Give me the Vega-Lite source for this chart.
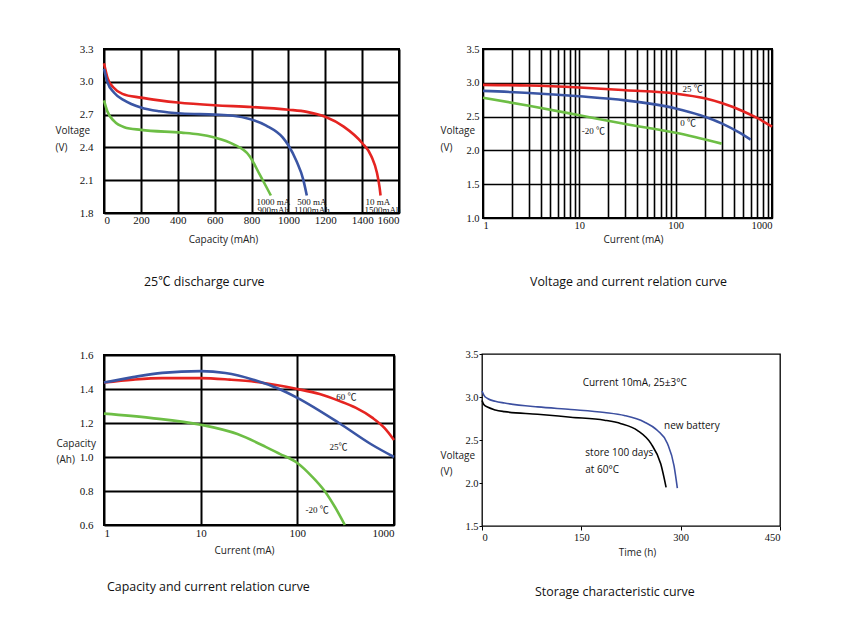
{
  "$schema": "https://vega.github.io/schema/vega-lite/v6.json",
  "background": "white",
  "padding": {"left": 54, "top": 42, "right": 5, "bottom": 5},
  "config": {
    "axis": {"labelFont": "Liberation Serif", "labelFontSize": 11, "labelColor": "#111", "titleFont": "Open Sans, Noto Sans CJK SC", "titleFontSize": 10, "titleFontWeight": "normal", "titleColor": "#222", "gridColor": "black", "gridOpacity": 1, "gridWidth": 2, "ticks": false, "domain": false, "labelOverlap": false, "tickCount": 100},
    "title": {"font": "Open Sans, Noto Sans CJK SC", "fontSize": 12.4, "fontWeight": "normal", "color": "#111", "orient": "bottom", "anchor": "start", "frame": "group", "baseline": "top"},
    "text": {"font": "Liberation Serif, Noto Sans CJK SC", "fontSize": 9, "color": "#111"}
  },
  "datasets": {
    "discharge": [
      {"s": "10 mA", "x": 0, "y": 3.17}, {"s": "10 mA", "x": 20, "y": 3.03}, {"s": "10 mA", "x": 50, "y": 2.95}, {"s": "10 mA", "x": 100, "y": 2.89}, {"s": "10 mA", "x": 200, "y": 2.855}, {"s": "10 mA", "x": 300, "y": 2.83}, {"s": "10 mA", "x": 400, "y": 2.81}, {"s": "10 mA", "x": 600, "y": 2.785}, {"s": "10 mA", "x": 800, "y": 2.77}, {"s": "10 mA", "x": 1000, "y": 2.745}, {"s": "10 mA", "x": 1100, "y": 2.725}, {"s": "10 mA", "x": 1200, "y": 2.68}, {"s": "10 mA", "x": 1300, "y": 2.59}, {"s": "10 mA", "x": 1400, "y": 2.44}, {"s": "10 mA", "x": 1450, "y": 2.32}, {"s": "10 mA", "x": 1480, "y": 2.17}, {"s": "10 mA", "x": 1495, "y": 2.03}, {"s": "10 mA", "x": 1500, "y": 1.96},
      {"s": "500 mA", "x": 0, "y": 3.12}, {"s": "500 mA", "x": 18, "y": 3.0}, {"s": "500 mA", "x": 55, "y": 2.9}, {"s": "500 mA", "x": 110, "y": 2.83}, {"s": "500 mA", "x": 200, "y": 2.765}, {"s": "500 mA", "x": 300, "y": 2.73}, {"s": "500 mA", "x": 420, "y": 2.71}, {"s": "500 mA", "x": 600, "y": 2.7}, {"s": "500 mA", "x": 700, "y": 2.69}, {"s": "500 mA", "x": 790, "y": 2.66}, {"s": "500 mA", "x": 880, "y": 2.6}, {"s": "500 mA", "x": 970, "y": 2.49}, {"s": "500 mA", "x": 1000, "y": 2.42}, {"s": "500 mA", "x": 1045, "y": 2.27}, {"s": "500 mA", "x": 1080, "y": 2.11}, {"s": "500 mA", "x": 1100, "y": 1.96},
      {"s": "1000 mA", "x": 0, "y": 2.83}, {"s": "1000 mA", "x": 18, "y": 2.73}, {"s": "1000 mA", "x": 55, "y": 2.64}, {"s": "1000 mA", "x": 110, "y": 2.585}, {"s": "1000 mA", "x": 200, "y": 2.56}, {"s": "1000 mA", "x": 420, "y": 2.535}, {"s": "1000 mA", "x": 510, "y": 2.52}, {"s": "1000 mA", "x": 600, "y": 2.49}, {"s": "1000 mA", "x": 700, "y": 2.43}, {"s": "1000 mA", "x": 790, "y": 2.32}, {"s": "1000 mA", "x": 845, "y": 2.15}, {"s": "1000 mA", "x": 880, "y": 2.04}, {"s": "1000 mA", "x": 905, "y": 1.96}
    ],
    "dischargeLabels": [
      {"x": 918, "y": 1.905, "t": "1000 mA"}, {"x": 918, "y": 1.826, "t": "900mAh"},
      {"x": 1127, "y": 1.905, "t": "500 mA"}, {"x": 1127, "y": 1.826, "t": "1100mAh"},
      {"x": 1485, "y": 1.905, "t": "10 mA"}, {"x": 1510, "y": 1.826, "t": "1500mAh"}
    ],
    "vc": [
      {"s": "25 ℃", "x": 1, "y": 2.97}, {"s": "25 ℃", "x": 3, "y": 2.96}, {"s": "25 ℃", "x": 10, "y": 2.93}, {"s": "25 ℃", "x": 30, "y": 2.89}, {"s": "25 ℃", "x": 100, "y": 2.84}, {"s": "25 ℃", "x": 200, "y": 2.77}, {"s": "25 ℃", "x": 300, "y": 2.7}, {"s": "25 ℃", "x": 500, "y": 2.58}, {"s": "25 ℃", "x": 700, "y": 2.48}, {"s": "25 ℃", "x": 1000, "y": 2.35},
      {"s": "0 ℃", "x": 1, "y": 2.88}, {"s": "0 ℃", "x": 3, "y": 2.85}, {"s": "0 ℃", "x": 10, "y": 2.8}, {"s": "0 ℃", "x": 30, "y": 2.74}, {"s": "0 ℃", "x": 100, "y": 2.62}, {"s": "0 ℃", "x": 180, "y": 2.52}, {"s": "0 ℃", "x": 300, "y": 2.4}, {"s": "0 ℃", "x": 450, "y": 2.27}, {"s": "0 ℃", "x": 600, "y": 2.16},
      {"s": "-20 ℃", "x": 1, "y": 2.78}, {"s": "-20 ℃", "x": 3, "y": 2.66}, {"s": "-20 ℃", "x": 10, "y": 2.52}, {"s": "-20 ℃", "x": 30, "y": 2.39}, {"s": "-20 ℃", "x": 100, "y": 2.26}, {"s": "-20 ℃", "x": 300, "y": 2.1}
    ],
    "vcLabels": [
      {"x": 150, "y": 2.91, "t": "25 ℃"}, {"x": 135, "y": 2.41, "t": "0 ℃"}, {"x": 14, "y": 2.28, "t": "-20 ℃"}
    ],
    "cc": [
      {"s": "60 ℃", "x": 1, "y": 1.438}, {"s": "60 ℃", "x": 2, "y": 1.455}, {"s": "60 ℃", "x": 4, "y": 1.464}, {"s": "60 ℃", "x": 10, "y": 1.464}, {"s": "60 ℃", "x": 20, "y": 1.455}, {"s": "60 ℃", "x": 40, "y": 1.44}, {"s": "60 ℃", "x": 100, "y": 1.4}, {"s": "60 ℃", "x": 170, "y": 1.37}, {"s": "60 ℃", "x": 270, "y": 1.33}, {"s": "60 ℃", "x": 400, "y": 1.29}, {"s": "60 ℃", "x": 600, "y": 1.23}, {"s": "60 ℃", "x": 800, "y": 1.17}, {"s": "60 ℃", "x": 1000, "y": 1.1},
      {"s": "25℃", "x": 1, "y": 1.438}, {"s": "25℃", "x": 2, "y": 1.47}, {"s": "25℃", "x": 4, "y": 1.495}, {"s": "25℃", "x": 10, "y": 1.505}, {"s": "25℃", "x": 18, "y": 1.494}, {"s": "25℃", "x": 35, "y": 1.455}, {"s": "25℃", "x": 65, "y": 1.4}, {"s": "25℃", "x": 100, "y": 1.348}, {"s": "25℃", "x": 270, "y": 1.2}, {"s": "25℃", "x": 580, "y": 1.075}, {"s": "25℃", "x": 1000, "y": 1.0},
      {"s": "-20 ℃", "x": 1, "y": 1.255}, {"s": "-20 ℃", "x": 3, "y": 1.23}, {"s": "-20 ℃", "x": 10, "y": 1.19}, {"s": "-20 ℃", "x": 24, "y": 1.135}, {"s": "-20 ℃", "x": 47, "y": 1.06}, {"s": "-20 ℃", "x": 65, "y": 1.02}, {"s": "-20 ℃", "x": 100, "y": 0.965}, {"s": "-20 ℃", "x": 142, "y": 0.885}, {"s": "-20 ℃", "x": 194, "y": 0.796}, {"s": "-20 ℃", "x": 245, "y": 0.706}, {"s": "-20 ℃", "x": 310, "y": 0.6}
    ],
    "ccLabels": [
      {"x": 322, "y": 1.355, "t": "60 ℃"}, {"x": 266, "y": 1.06, "t": "25℃"}, {"x": 160, "y": 0.69, "t": "-20 ℃"}
    ],
    "storage": [
      {"s": "new battery", "x": 0, "y": 3.07}, {"s": "new battery", "x": 3, "y": 3.02}, {"s": "new battery", "x": 9, "y": 2.98}, {"s": "new battery", "x": 20, "y": 2.95}, {"s": "new battery", "x": 34, "y": 2.93}, {"s": "new battery", "x": 84, "y": 2.885}, {"s": "new battery", "x": 134, "y": 2.855}, {"s": "new battery", "x": 185, "y": 2.82}, {"s": "new battery", "x": 215, "y": 2.785}, {"s": "new battery", "x": 245, "y": 2.71}, {"s": "new battery", "x": 265, "y": 2.61}, {"s": "new battery", "x": 280, "y": 2.46}, {"s": "new battery", "x": 290, "y": 2.2}, {"s": "new battery", "x": 295, "y": 1.94},
      {"s": "stored", "x": 0, "y": 2.96}, {"s": "stored", "x": 3, "y": 2.91}, {"s": "stored", "x": 9, "y": 2.88}, {"s": "stored", "x": 20, "y": 2.85}, {"s": "stored", "x": 34, "y": 2.83}, {"s": "stored", "x": 84, "y": 2.8}, {"s": "stored", "x": 134, "y": 2.765}, {"s": "stored", "x": 185, "y": 2.73}, {"s": "stored", "x": 210, "y": 2.69}, {"s": "stored", "x": 235, "y": 2.61}, {"s": "stored", "x": 255, "y": 2.46}, {"s": "stored", "x": 270, "y": 2.22}, {"s": "stored", "x": 278, "y": 1.95}
    ],
    "storageLabels": [
      {"x": 152, "y": 3.16, "t": "Current 10mA, 25±3°C"}, {"x": 275, "y": 2.66, "t": "new battery"}, {"x": 156, "y": 2.35, "t": "store 100 days"}, {"x": 156, "y": 2.15, "t": "at 60°C"}
    ]
  },
  "columns": 2,
  "align": "none",
  "spacing": {"row": 58, "column": 37},
  "resolve": {"scale": {"color": "independent"}},
  "concat": [
    {
      "width": 295, "height": 164,
      "view": {"stroke": "black", "strokeWidth": 2},
      "title": {"text": "25℃ discharge curve", "dx": 40, "offset": 32},
      "layer": [
        {
          "data": {"name": "discharge"},
          "mark": {"type": "line", "strokeWidth": 2.6, "interpolate": "monotone"},
          "encoding": {
            "x": {"field": "x", "type": "quantitative", "scale": {"domain": [0, 1600], "nice": false},
              "axis": {"values": [0, 200, 400, 600, 800, 1000, 1200, 1400, 1600], "format": "d", "title": "Capacity (mAh)", "labelPadding": 1, "titleX": 119, "titleY": 26, "titleBaseline": "middle"}},
            "y": {"field": "y", "type": "quantitative", "scale": {"domain": [1.8, 3.3], "nice": false, "zero": false},
              "axis": {"values": [1.8, 2.1, 2.4, 2.7, 3.0, 3.3], "format": ".1f", "labelPadding": 11, "title": ["Voltage", "(V)"], "titleAngle": 0, "titleAlign": "left", "titleBaseline": "middle", "titleX": -49, "titleY": 81, "titleLineHeight": 17}},
            "color": {"field": "s", "type": "nominal", "scale": {"domain": ["10 mA", "500 mA", "1000 mA"], "range": ["#e52421", "#3a55a4", "#6dbe45"]}, "legend": null}
          }
        },
        {
          "mark": {"type": "rect", "fill": "white", "stroke": "black", "strokeWidth": 1.5},
          "encoding": {"x": {"datum": 600}, "x2": {"datum": 1600}, "y": {"datum": 1.8}, "y2": {"datum": 1.95}}
        },
        {
          "data": {"name": "dischargeLabels"},
          "mark": {"type": "text", "align": "center", "baseline": "middle"},
          "encoding": {"x": {"field": "x", "type": "quantitative"}, "y": {"field": "y", "type": "quantitative"}, "text": {"field": "t"}}
        }
      ]
    },
    {
      "width": 289, "height": 169,
      "view": {"stroke": "black", "strokeWidth": 2},
      "title": {"text": "Voltage and current relation curve", "dx": 47, "offset": 32},
      "layer": [
        {
          "data": {"name": "vc"},
          "mark": {"type": "line", "strokeWidth": 2.6, "interpolate": "monotone"},
          "encoding": {
            "x": {"field": "x", "type": "quantitative", "scale": {"type": "log", "domain": [1, 1000], "nice": false},
              "axis": {"values": [1, 2, 3, 4, 5, 6, 7, 8, 9, 10, 20, 30, 40, 50, 60, 70, 80, 90, 100, 200, 300, 400, 500, 600, 700, 800, 900, 1000], "labelExpr": "(datum.value == 1 || datum.value == 10 || datum.value == 100 || datum.value == 1000) ? '' + datum.value : ''", "gridWidth": 1.6, "labelFontSize": 10.5, "labelPadding": 2, "title": "Current (mA)", "titleX": 150, "titleY": 21, "titleBaseline": "middle"}},
            "y": {"field": "y", "type": "quantitative", "scale": {"domain": [1.0, 3.5], "nice": false, "zero": false},
              "axis": {"values": [1.0, 1.5, 2.0, 2.5, 3.0, 3.5], "format": ".1f", "gridWidth": 1.6, "labelFontSize": 10.5, "labelPadding": 4, "title": ["Voltage", "(V)"], "titleAngle": 0, "titleAlign": "left", "titleBaseline": "middle", "titleX": -43, "titleY": 81, "titleLineHeight": 17}},
            "color": {"field": "s", "type": "nominal", "scale": {"domain": ["25 ℃", "0 ℃", "-20 ℃"], "range": ["#e52421", "#3a55a4", "#6dbe45"]}, "legend": null}
          }
        },
        {
          "data": {"name": "vcLabels"},
          "mark": {"type": "text", "align": "center", "baseline": "middle"},
          "encoding": {"x": {"field": "x", "type": "quantitative"}, "y": {"field": "y", "type": "quantitative"}, "text": {"field": "t"}}
        }
      ]
    },
    {
      "width": 290, "height": 170,
      "view": {"stroke": "black", "strokeWidth": 2},
      "title": {"text": "Capacity and current relation curve", "dx": 3, "offset": 26},
      "layer": [
        {
          "data": {"name": "cc"},
          "mark": {"type": "line", "strokeWidth": 2.6, "interpolate": "monotone"},
          "encoding": {
            "x": {"field": "x", "type": "quantitative", "scale": {"type": "log", "domain": [1, 1000], "nice": false},
              "axis": {"values": [1, 10, 100, 1000], "format": "d", "labelPadding": 2, "title": "Current (mA)", "titleX": 140, "titleY": 25, "titleBaseline": "middle"}},
            "y": {"field": "y", "type": "quantitative", "scale": {"domain": [0.6, 1.6], "nice": false, "zero": false},
              "axis": {"values": [0.6, 0.8, 1.0, 1.2, 1.4, 1.6], "format": ".1f", "labelPadding": 11, "title": ["Capacity", "(Ah)"], "titleAngle": 0, "titleAlign": "left", "titleBaseline": "middle", "titleX": -48, "titleY": 88, "titleLineHeight": 16}},
            "color": {"field": "s", "type": "nominal", "scale": {"domain": ["60 ℃", "25℃", "-20 ℃"], "range": ["#e52421", "#3a55a4", "#6dbe45"]}, "legend": null}
          }
        },
        {
          "data": {"name": "ccLabels"},
          "mark": {"type": "text", "align": "center", "baseline": "middle"},
          "encoding": {"x": {"field": "x", "type": "quantitative"}, "y": {"field": "y", "type": "quantitative"}, "text": {"field": "t"}}
        }
      ]
    },
    {
      "width": 298, "height": 172,
      "view": {"stroke": "black", "strokeWidth": 1.3},
      "title": {"text": "Storage characteristic curve", "dx": 53, "offset": 29},
      "layer": [
        {
          "data": {"name": "storage"},
          "mark": {"type": "line", "strokeWidth": 1.6, "interpolate": "monotone"},
          "encoding": {
            "x": {"field": "x", "type": "quantitative", "scale": {"domain": [0, 450], "nice": false},
              "axis": {"values": [0, 150, 300, 450], "grid": false, "ticks": true, "tickSize": 4, "tickColor": "black", "labelFontSize": 10.5, "labelPadding": 2, "title": "Time (h)", "titleX": 155, "titleY": 26, "titleBaseline": "middle"}},
            "y": {"field": "y", "type": "quantitative", "scale": {"domain": [1.5, 3.5], "nice": false, "zero": false},
              "axis": {"values": [1.5, 2.0, 2.5, 3.0, 3.5], "format": ".1f", "grid": false, "ticks": true, "tickSize": 3, "tickColor": "black", "labelFontSize": 10.5, "labelPadding": 1, "title": ["Voltage", "(V)"], "titleAngle": 0, "titleAlign": "left", "titleBaseline": "middle", "titleX": -42, "titleY": 101, "titleLineHeight": 16.5}},
            "color": {"field": "s", "type": "nominal", "scale": {"domain": ["new battery", "stored"], "range": ["#3c4fa0", "#000000"]}, "legend": null}
          }
        },
        {
          "data": {"name": "storageLabels"},
          "mark": {"type": "text", "align": "left", "baseline": "middle", "font": "Open Sans, Noto Sans CJK SC", "fontSize": 10},
          "encoding": {"x": {"field": "x", "type": "quantitative"}, "y": {"field": "y", "type": "quantitative"}, "text": {"field": "t"}}
        }
      ]
    }
  ]
}
